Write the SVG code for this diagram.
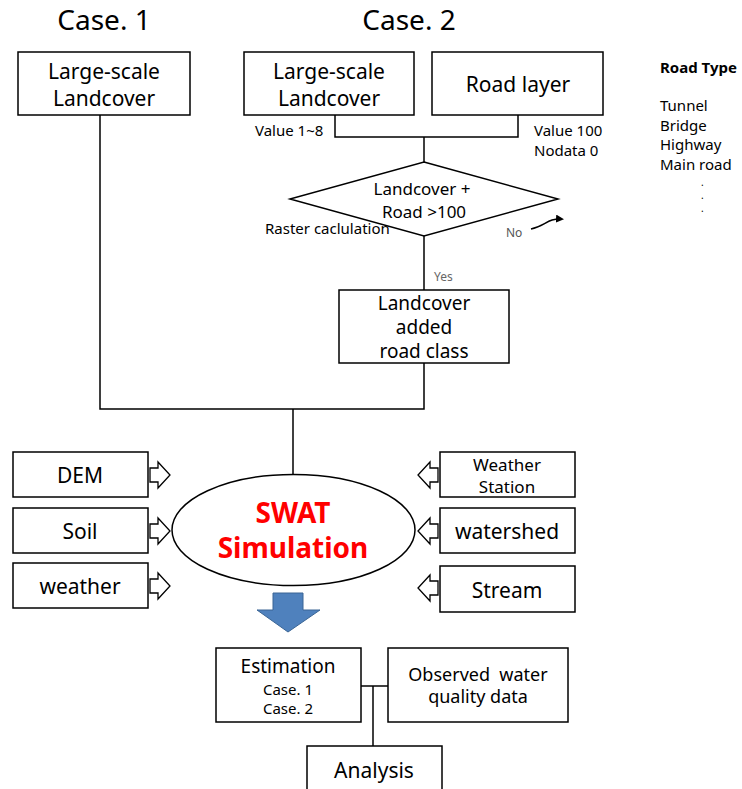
<svg xmlns="http://www.w3.org/2000/svg" width="742" height="789" viewBox="0 0 742 789">
<style>
text{font-family:"Noto Sans","Noto Sans CJK KR",sans-serif;fill:#000;}
.box{fill:#fff;stroke:#000;stroke-width:1.5;}
.ln{fill:none;stroke:#000;stroke-width:1.5;}
.hol{fill:#fff;stroke:#000;stroke-width:1.3;}
.c{text-anchor:middle;}
</style>
<defs>
<marker id="ah" markerWidth="8" markerHeight="8" refX="6" refY="4" orient="auto" markerUnits="userSpaceOnUse">
<path d="M0,0 L8,4 L0,8 Z" fill="#000"/>
</marker>
</defs>
<rect width="742" height="789" fill="#fff"/>

<text x="104" y="30" class="c" font-size="28">Case. 1</text>
<text x="409" y="30" class="c" font-size="28">Case. 2</text>

<g id="connectors">
<path class="ln" d="M335,115 V137 H518 V115"/>
<path class="ln" d="M424,137 V162"/>
<path class="ln" d="M424,236 V290"/>
<path class="ln" d="M424,363 V409 H100 V115"/>
<path class="ln" d="M293,409 V475"/>
<path class="ln" d="M361,686 H388"/>
<path class="ln" d="M373,686 V746"/>
<path d="M531,229 C545,226 548,218 562,219" fill="none" stroke="#000" stroke-width="1.5" marker-end="url(#ah)"/>
</g>

<g id="case1-landcover">
<rect class="box" x="18" y="52" width="172" height="63"/>
<text x="104" y="79" class="c" font-size="21">Large-scale</text>
<text x="104" y="106" class="c" font-size="21">Landcover</text>
</g>

<g id="case2-landcover">
<rect class="box" x="244" y="52" width="170" height="63"/>
<text x="329" y="79" class="c" font-size="21">Large-scale</text>
<text x="329" y="106" class="c" font-size="21">Landcover</text>
</g>

<g id="road-layer">
<rect class="box" x="432" y="52" width="171" height="63"/>
<text x="518" y="92" class="c" font-size="21">Road layer</text>
</g>

<g id="labels-values">
<text x="255" y="136" font-size="15">Value 1~8</text>
<text x="534" y="136" font-size="15">Value 100</text>
<text x="534" y="156" font-size="15">Nodata 0</text>
</g>

<g id="decision">
<polygon class="box" points="424,162 558,199 424,236 290,199"/>
<text x="422" y="195" class="c" font-size="17">Landcover  +</text>
<text x="424" y="218" class="c" font-size="17">Road  &gt;100</text>
<text x="265" y="234" font-size="15">Raster caclulation</text>
<text x="506" y="237" font-size="12" style="fill:#555">No</text>
<text x="434" y="281" font-size="12" style="fill:#666">Yes</text>
</g>

<g id="landcover-road">
<rect class="box" x="339" y="290" width="170" height="73"/>
<text x="424" y="310" class="c" font-size="19">Landcover</text>
<text x="424" y="334" class="c" font-size="19">added</text>
<text x="424" y="358" class="c" font-size="19">road class</text>
</g>

<g id="road-type">
<text x="660" y="73" font-size="15" font-weight="bold">Road Type</text>
<text x="660" y="111" font-size="15">Tunnel</text>
<text x="660" y="131" font-size="15">Bridge</text>
<text x="660" y="150" font-size="15">Highway</text>
<text x="660" y="170" font-size="15">Main road</text>
<text x="701" y="186" font-size="10">.</text>
<text x="701" y="199" font-size="10">.</text>
<text x="701" y="212" font-size="10">.</text>
</g>

<g id="swat">
<ellipse class="box" cx="293.5" cy="530" rx="121.5" ry="55.5"/>
<text x="293" y="523" class="c" font-size="28" font-weight="bold" style="fill:#ff0000">SWAT</text>
<text x="293" y="558" class="c" font-size="28" font-weight="bold" style="fill:#ff0000">Simulation</text>
</g>

<g id="dem">
<rect class="box" x="13" y="452" width="135" height="45"/>
<text x="80" y="483" class="c" font-size="21">DEM</text>
<path class="hol" d="M150,468 H158 V462 L170,475 L158,488 V482 H150 Z"/>
</g>
<g id="soil">
<rect class="box" x="13" y="508" width="135" height="45"/>
<text x="80" y="539" class="c" font-size="21">Soil</text>
<path class="hol" d="M150,524 H158 V518 L170,531 L158,544 V538 H150 Z"/>
</g>
<g id="weather">
<rect class="box" x="13" y="563" width="135" height="45"/>
<text x="80" y="594" class="c" font-size="21">weather</text>
<path class="hol" d="M150,579 H158 V573 L170,586 L158,599 V593 H150 Z"/>
</g>

<g id="weather-station">
<rect class="box" x="440" y="452" width="135" height="45"/>
<text x="507" y="471" class="c" font-size="17">Weather</text>
<text x="507" y="493" class="c" font-size="17">Station</text>
<path class="hol" d="M438,468 H430 V462 L418,475 L430,488 V482 H438 Z"/>
</g>
<g id="watershed">
<rect class="box" x="440" y="508" width="135" height="45"/>
<text x="507" y="539" class="c" font-size="21">watershed</text>
<path class="hol" d="M438,524 H430 V518 L418,531 L430,544 V538 H438 Z"/>
</g>
<g id="stream">
<rect class="box" x="440" y="566" width="135" height="46"/>
<text x="507" y="598" class="c" font-size="21">Stream</text>
<path class="hol" d="M438,581 H430 V575 L418,588 L430,601 V595 H438 Z"/>
</g>

<g id="output-arrow">
<path d="M273,593 H303 V610 H320 L288,632 L257,610 H273 Z" fill="#4f81bd" stroke="#3a6595" stroke-width="1"/>
</g>

<g id="estimation">
<rect class="box" x="216" y="648" width="145" height="74"/>
<text x="288" y="673" class="c" font-size="19">Estimation</text>
<text x="288" y="695" class="c" font-size="15">Case. 1</text>
<text x="288" y="714" class="c" font-size="15">Case. 2</text>
</g>

<g id="observed">
<rect class="box" x="388" y="648" width="180" height="74"/>
<text x="478" y="681" class="c" font-size="18" xml:space="preserve">Observed  water</text>
<text x="478" y="703" class="c" font-size="18">quality data</text>
</g>

<g id="analysis">
<rect class="box" x="307" y="746" width="135" height="50"/>
<text x="374" y="778" class="c" font-size="21">Analysis</text>
</g>
</svg>
